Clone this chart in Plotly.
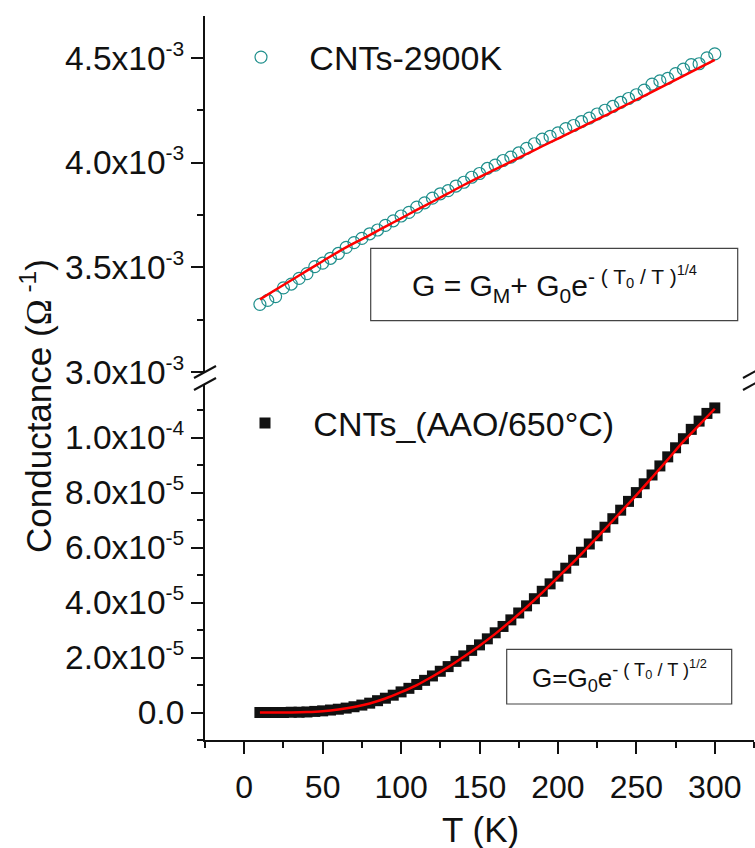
import plotly.graph_objects as go

# ---------------- data ----------------
T_2900K = [10, 15, 20, 25, 30, 35, 40, 45, 50, 55, 60, 65, 70, 75, 80, 85, 90, 95, 100,
           105, 110, 115, 120, 125, 130, 135, 140, 145, 150, 155, 160, 165, 170, 175, 180,
           185, 190, 195, 200, 205, 210, 215, 220, 225, 230, 235, 240, 245, 250, 255, 260,
           265, 270, 275, 280, 285, 290, 295, 300]
G_2900K_e3 = [3.323, 3.342, 3.360, 3.402, 3.420, 3.447, 3.470, 3.503, 3.520, 3.543, 3.566,
              3.595, 3.618, 3.638, 3.660, 3.678, 3.700, 3.722, 3.745, 3.762, 3.787, 3.808,
              3.830, 3.851, 3.866, 3.888, 3.906, 3.930, 3.948, 3.972, 3.988, 4.010, 4.026,
              4.046, 4.068, 4.090, 4.112, 4.125, 4.142, 4.162, 4.177, 4.196, 4.212, 4.232,
              4.250, 4.268, 4.288, 4.306, 4.324, 4.346, 4.375, 4.390, 4.402, 4.425, 4.446,
              4.468, 4.472, 4.500, 4.519]
T_fit_2900K = [10, 20, 30, 40, 50, 60, 70, 80, 90, 100, 110, 120, 130, 140, 150, 160, 170,
               180, 190, 200, 210, 220, 230, 240, 250, 260, 270, 280, 290, 300]
G_fit_2900K_e3 = [3.347, 3.393, 3.438, 3.484, 3.529, 3.574, 3.615, 3.654, 3.694, 3.734,
                  3.774, 3.813, 3.853, 3.893, 3.931, 3.968, 4.004, 4.041, 4.078, 4.114,
                  4.151, 4.188, 4.224, 4.262, 4.300, 4.338, 4.376, 4.414, 4.452, 4.490]

T_AAO = [10, 15, 20, 25, 30, 35, 40, 45, 50, 55, 60, 65, 70, 75, 80, 85, 90, 95, 100,
         105, 110, 115, 120, 125, 130, 135, 140, 145, 150, 155, 160, 165, 170, 175, 180,
         185, 190, 195, 200, 205, 210, 215, 220, 225, 230, 235, 240, 245, 250, 255, 260,
         265, 270, 275, 280, 285, 290, 295, 300]
G_AAO_e5 = [0.00, 0.00, 0.00, 0.00, 0.01, 0.01, 0.02, 0.04, 0.06, 0.09, 0.12, 0.16, 0.21,
            0.27, 0.34, 0.43, 0.52, 0.63, 0.75, 0.88, 1.02, 1.17, 1.33, 1.50, 1.67, 1.86,
            2.06, 2.26, 2.46, 2.68, 2.90, 3.13, 3.37, 3.62, 3.88, 4.14, 4.41, 4.68, 4.96,
            5.25, 5.54, 5.83, 6.13, 6.43, 6.74, 7.05, 7.36, 7.68, 8.00, 8.32, 8.64, 8.97,
            9.30, 9.63, 9.96, 10.30, 10.60, 10.88, 11.08]
T_fit_AAO = [10, 20, 30, 40, 50, 60, 70, 80, 90, 100, 110, 120, 130, 140, 150, 160, 170,
             180, 190, 200, 210, 220, 230, 240, 250, 260, 270, 280, 290, 300]
G_fit_AAO_e5 = [0.0, 0.0, 0.004, 0.018, 0.05, 0.11, 0.20, 0.33, 0.51, 0.74, 1.00, 1.31,
                1.65, 2.03, 2.43, 2.86, 3.33, 3.83, 4.36, 4.92, 5.48, 6.07, 6.67, 7.29,
                7.91, 8.55, 9.20, 9.86, 10.45, 11.05]

x_tickvals = [0, 50, 100, 150, 200, 250, 300]
top_tickvals = [3.0e-3, 3.5e-3, 4.0e-3, 4.5e-3]
top_minorvals = [3.25e-3, 3.75e-3, 4.25e-3]
bot_tickvals = [0, 2e-5, 4e-5, 6e-5, 8e-5, 1e-4]
bot_minorvals = [-1e-5, 1e-5, 3e-5, 5e-5, 7e-5, 9e-5, 1.1e-4]


def sci(m, e):
    return f"{m}x10<sup><span style=\"font-size:21px\">{e}</span></sup>"


top_ticktext = [sci("3.0", -3), sci("3.5", -3), sci("4.0", -3), sci("4.5", -3)]
bot_ticktext = ["0.0", sci("2.0", -5), sci("4.0", -5), sci("6.0", -5), sci("8.0", -5),
                sci("1.0", -4)]

# ---------------- geometry ----------------
W, H = 755, 848
ML, MR, MT, MB = 205, 1, 16, 108
PW, PH = W - ML - MR, H - MT - MB


def px_x(px):
    return (px - ML) / PW


def px_y(py):
    return (H - MB - py) / PH


FONT = "Arial, 'Liberation Sans', sans-serif"
TEAL = "#1f8f8c"
INK = "#111111"

top_dom = [px_y(372), 1.0]
bot_dom = [0.0, px_y(384)]
XR = [-25, 325]
YR_TOP = [3.0e-3, 4.7e-3]
YR_BOT = [-1.0e-5, 1.195e-4]

fig = go.Figure()
fig.add_trace(go.Scatter(
    x=T_2900K, y=[v * 1e-3 for v in G_2900K_e3], mode="markers",
    name="\u00a0\u00a0\u00a0CNTs-2900K", xaxis="x", yaxis="y", legend="legend",
    marker=dict(symbol="circle-open", size=12, color=TEAL, line=dict(width=1.2, color=TEAL))))
fig.add_trace(go.Scatter(
    x=T_fit_2900K, y=[v * 1e-3 for v in G_fit_2900K_e3], mode="lines", showlegend=False,
    line=dict(color="#ff0000", width=2.5, shape="spline"), xaxis="x", yaxis="y"))
fig.add_trace(go.Scatter(
    x=T_AAO, y=[v * 1e-5 for v in G_AAO_e5], mode="markers",
    name="\u00a0\u00a0\u00a0CNTs_(AAO/650°C)", xaxis="x", yaxis="y2", legend="legend2",
    marker=dict(symbol="square", size=11, color=INK, line=dict(width=0))))
fig.add_trace(go.Scatter(
    x=T_fit_AAO, y=[v * 1e-5 for v in G_fit_AAO_e5], mode="lines", showlegend=False,
    line=dict(color="#ff0000", width=2.5, shape="spline"), xaxis="x", yaxis="y2"))

common_line = dict(showline=True, linecolor=INK, linewidth=2, showgrid=False, zeroline=False,
                   tickcolor=INK, tickwidth=2)

fig.update_layout(
    width=W, height=H, margin=dict(l=ML, r=MR, t=MT, b=MB, pad=0),
    paper_bgcolor="white", plot_bgcolor="white",
    font=dict(family=FONT, color=INK, size=32),
    xaxis=dict(range=XR, domain=[0, 1], anchor="y2", tickmode="array", tickvals=x_tickvals,
               ticks="outside", ticklen=12, ticklabelstandoff=6,
               minor=dict(dtick=25, tick0=0, ticks="outside", ticklen=6, tickwidth=2, tickcolor=INK),
               tickfont=dict(size=32), **common_line),
    xaxis2=dict(range=XR, overlaying="x", anchor="y", side="top", tickmode="array",
                tickvals=x_tickvals, ticks="inside", ticklen=10, showticklabels=False,
                minor=dict(dtick=25, tick0=0, ticks="inside", ticklen=6, tickwidth=2, tickcolor=INK),
                **common_line),
    yaxis=dict(range=YR_TOP, domain=top_dom, anchor="x", tickmode="array",
               tickvals=top_tickvals, ticktext=top_ticktext, ticks="outside", ticklen=12,
               ticklabelstandoff=0,
               minor=dict(tickmode="array", tickvals=top_minorvals, ticks="outside", ticklen=6,
                          tickwidth=2, tickcolor=INK),
               tickfont=dict(size=33.5), **common_line),
    yaxis2=dict(range=YR_BOT, domain=bot_dom, anchor="x", tickmode="array",
                tickvals=bot_tickvals, ticktext=bot_ticktext, ticks="outside", ticklen=12,
                ticklabelstandoff=0,
                minor=dict(tickmode="array", tickvals=bot_minorvals, ticks="outside", ticklen=6,
                           tickwidth=2, tickcolor=INK),
                tickfont=dict(size=33.5), **common_line),
    yaxis3=dict(range=YR_TOP, overlaying="y", anchor="x", side="right", tickmode="array",
                tickvals=top_tickvals, ticks="inside", ticklen=10, showticklabels=False,
                minor=dict(tickmode="array", tickvals=top_minorvals, ticks="inside", ticklen=5,
                           tickwidth=2, tickcolor=INK),
                **common_line),
    yaxis4=dict(range=YR_BOT, overlaying="y2", anchor="x", side="right", tickmode="array",
                tickvals=bot_tickvals, ticks="inside", ticklen=10, showticklabels=False,
                minor=dict(tickmode="array", tickvals=bot_minorvals, ticks="inside", ticklen=5,
                           tickwidth=2, tickcolor=INK),
                **common_line),
    legend=dict(x=px_x(241), y=px_y(57.5), xanchor="left", yanchor="middle",
                bgcolor="rgba(0,0,0,0)", borderwidth=0, font=dict(size=34, family=FONT, color=INK)),
    legend2=dict(x=px_x(245), y=px_y(423.3), xanchor="left", yanchor="middle",
                 bgcolor="rgba(0,0,0,0)", borderwidth=0, font=dict(size=34, family=FONT, color=INK)),
    showlegend=True,
)

# axis break marks (left and right)
shapes = []
for xc in (205, 754):
    for yc in (372, 384):
        shapes.append(dict(type="line", xref="paper", yref="paper",
                           x0=px_x(xc - 11), y0=px_y(yc + 6), x1=px_x(xc + 11), y1=px_y(yc - 6),
                           line=dict(color=INK, width=2)))
# equation boxes
shapes.append(dict(type="rect", xref="paper", yref="paper",
                   x0=px_x(370.7), x1=px_x(737.7), y0=px_y(320.7), y1=px_y(248.3),
                   line=dict(color="#444444", width=1.2), fillcolor="rgba(0,0,0,0)"))
shapes.append(dict(type="rect", xref="paper", yref="paper",
                   x0=px_x(506.7), x1=px_x(731.7), y0=px_y(704), y1=px_y(649.3),
                   line=dict(color="#444444", width=1.2), fillcolor="rgba(0,0,0,0)"))
fig.update_layout(shapes=shapes)

ann = []
ann.append(dict(text="Conductance (<span style=\"font-family:'Liberation Serif'\">Ω</span><sup> -1</sup>)",
                xref="paper", yref="paper", x=0, xshift=36 - ML, y=px_y(406),
                xanchor="center", yanchor="middle", textangle=-90, showarrow=False,
                font=dict(size=35, family=FONT, color=INK)))
ann.append(dict(text="T (K)", xref="paper", yref="paper", x=px_x(480), y=px_y(829),
                xanchor="center", yanchor="middle", showarrow=False,
                font=dict(size=35, family=FONT, color=INK)))
ann.append(dict(text="G = G<sub>M</sub>+ G<sub>0</sub>e<sup>- ( T<sub>0</sub> / T )<sup>1/4</sup></sup>",
                xref="paper", yref="paper", x=px_x(554), y=px_y(284),
                xanchor="center", yanchor="middle", showarrow=False,
                font=dict(size=30, family=FONT, color=INK)))
ann.append(dict(text="G=G<sub>0</sub>e<sup>- ( T<sub>0</sub> / T )<sup>1/2</sup></sup>",
                xref="paper", yref="paper", x=px_x(619), y=px_y(676),
                xanchor="center", yanchor="middle", showarrow=False,
                font=dict(size=26, family=FONT, color=INK)))
fig.update_layout(annotations=ann)

fig.write_html("out.html", config={"displayModeBar": False},
               post_script="document.body.style.margin='0';document.body.style.overflow='hidden';")
